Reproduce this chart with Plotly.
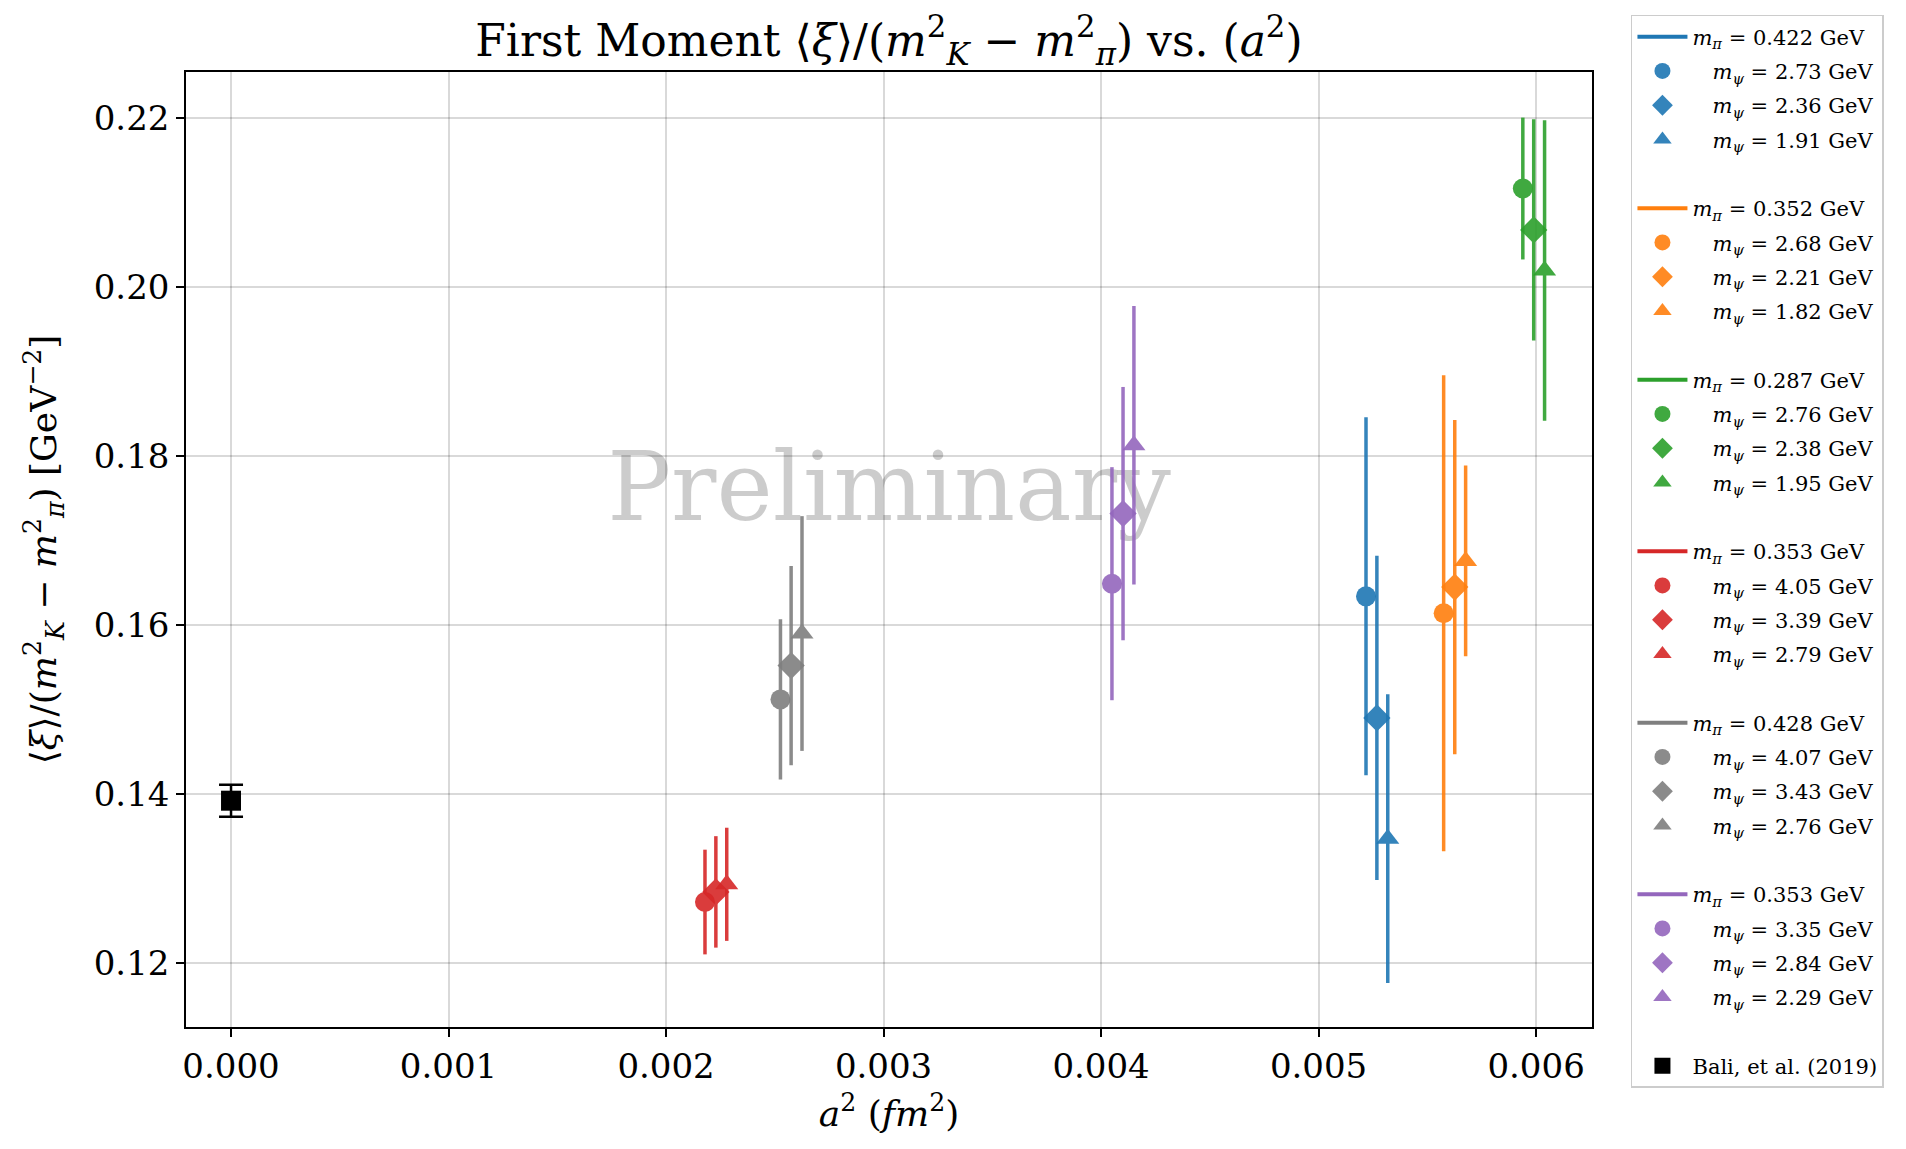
import plotly.graph_objects as go

# ---------------- data ----------------
m_pi_labels = ["0.422", "0.352", "0.287", "0.353", "0.428", "0.353"]
colors = ["#1f77b4", "#ff7f0e", "#2ca02c", "#d62728", "#7f7f7f", "#9467bd"]
m_psi_labels = [
    ["2.73", "2.36", "1.91"],
    ["2.68", "2.21", "1.82"],
    ["2.76", "2.38", "1.95"],
    ["4.05", "3.39", "2.79"],
    ["4.07", "3.43", "2.76"],
    ["3.35", "2.84", "2.29"],
]
a2_values = [
    [0.005218, 0.005268, 0.005318],
    [0.005575, 0.005626, 0.005676],
    [0.005939, 0.005989, 0.006039],
    [0.002179, 0.002229, 0.002279],
    [0.002526, 0.002575, 0.002625],
    [0.004050, 0.004101, 0.004151],
]
moment_values = [
    [0.1634, 0.1490, 0.1347],
    [0.1614, 0.1645, 0.1676],
    [0.2117, 0.2068, 0.2020],
    [0.1272, 0.1284, 0.1293],
    [0.1512, 0.1552, 0.1590],
    [0.1649, 0.1732, 0.1813],
]
moment_errors = [
    [0.0212, 0.0192, 0.0171],
    [0.0282, 0.0198, 0.0113],
    [0.0084, 0.0131, 0.0178],
    [0.0062, 0.0066, 0.0067],
    [0.0095, 0.0118, 0.0139],
    [0.0138, 0.0150, 0.0165],
]
bali_label = "Bali, et al. (2019)"
bali_a2 = [0.0]
bali_value = [0.1392]
bali_error = [0.0019]

x_ticks = [0.000, 0.001, 0.002, 0.003, 0.004, 0.005, 0.006]
y_ticks = [0.12, 0.14, 0.16, 0.18, 0.20, 0.22]
x_range = [-0.000207, 0.006257]
y_range = [0.1124, 0.2255]

symbols = ["circle", "diamond", "triangle-up"]
sizes = [20, 21, 20]
SERIF = "DejaVu Serif"
NB = "\u00a0"

fig = go.Figure()

# watermark (drawn first so the data sits on top)
fig.add_trace(go.Scatter(
    x=[(x_range[0] + x_range[1]) / 2],
    y=[y_range[0] + 0.556 * (y_range[1] - y_range[0])],
    mode="text", text=["Preliminary"],
    textfont=dict(family=SERIF, size=95, color="rgba(0,0,0,0.2)"),
    showlegend=False, hoverinfo="skip", cliponaxis=False,
))

gid = 0
for gi, mpi in enumerate(m_pi_labels):
    col = colors[gi]
    # header line entry
    fig.add_trace(go.Scatter(
        x=[None], y=[None], mode="lines",
        line=dict(color=col, width=4),
        name=f"<i>m</i><sub><i>π</i></sub> = {mpi} GeV",
        legendgroup=f"g{gid}", showlegend=True, hoverinfo="skip",
    ))
    gid += 1
    for k in range(3):
        fig.add_trace(go.Scatter(
            x=[a2_values[gi][k]], y=[moment_values[gi][k]],
            mode="markers",
            marker=dict(symbol=symbols[k], size=sizes[k], color=col, line=dict(width=0)),
            error_y=dict(type="data", array=[moment_errors[gi][k]],
                         thickness=3.5, width=0, color=col),
            opacity=0.9,
            name=f"{NB*3}<i>m</i><sub><i>ψ</i></sub> = {m_psi_labels[gi][k]} GeV",
            legendgroup=f"g{gid}", showlegend=True, hoverinfo="skip",
        ))
        gid += 1
    # blank spacer entry
    fig.add_trace(go.Scatter(
        x=[None], y=[None], mode="markers",
        marker=dict(opacity=0, size=1, color="white"),
        name=NB, legendgroup=f"g{gid}", showlegend=True, hoverinfo="skip",
    ))
    gid += 1

fig.add_trace(go.Scatter(
    x=bali_a2, y=bali_value, mode="markers",
    marker=dict(symbol="square", size=20, color="black"),
    error_y=dict(type="data", array=bali_error, thickness=2.5, width=12, color="black"),
    name=bali_label, legendgroup=f"g{gid}", showlegend=True, hoverinfo="skip",
))

axis_common = dict(
    showline=True, linecolor="black", linewidth=1.6, mirror=True,
    ticks="outside", ticklen=8, tickwidth=1.6, tickcolor="black",
    showgrid=True, gridcolor="rgba(0,0,0,0.15)", gridwidth=2,
    zeroline=False,
    tickfont=dict(family=SERIF, size=34, color="black"),
)

fig.update_layout(
    width=1906, height=1149,
    margin=dict(l=186, r=314, t=72, b=122),
    paper_bgcolor="white", plot_bgcolor="white",
    showlegend=True,
    title=dict(
        text="First Moment ⟨<i>ξ</i>⟩/(<i>m</i><sup>2</sup><sub><i>K</i></sub> − "
             "<i>m</i><sup>2</sup><sub><i>π</i></sub>) vs. (<i>a</i><sup>2</sup>)",
        font=dict(family=SERIF, size=44, color="black"),
        x=0.5, xref="paper", xanchor="center",
        y=0.965, yref="container", yanchor="middle",
    ),
    xaxis=dict(
        **axis_common, range=x_range, tickvals=x_ticks, tickformat=".3f",
        title=dict(text="<i>a</i><sup>2</sup> (<i>fm</i><sup>2</sup>)",
                   font=dict(family=SERIF, size=36, color="black"), standoff=16),
    ),
    yaxis=dict(
        **axis_common, range=y_range, tickvals=y_ticks, tickformat=".2f",
        title=dict(text="⟨<i>ξ</i>⟩/(<i>m</i><sup>2</sup><sub><i>K</i></sub> − "
                        "<i>m</i><sup>2</sup><sub><i>π</i></sub>) [GeV<sup>−2</sup>]",
                   font=dict(family=SERIF, size=36, color="black"), standoff=26),
    ),
    legend=dict(
        x=1.0277, xanchor="left", y=1.0597, yanchor="top",
        traceorder="grouped", tracegroupgap=4,
        bgcolor="white", bordercolor="#cccccc", borderwidth=1.5,
        font=dict(family=SERIF, size=21, color="black"),
        itemwidth=50, itemsizing="trace", maxheight=1149,
    ),
)

fig.write_html("out.html")
